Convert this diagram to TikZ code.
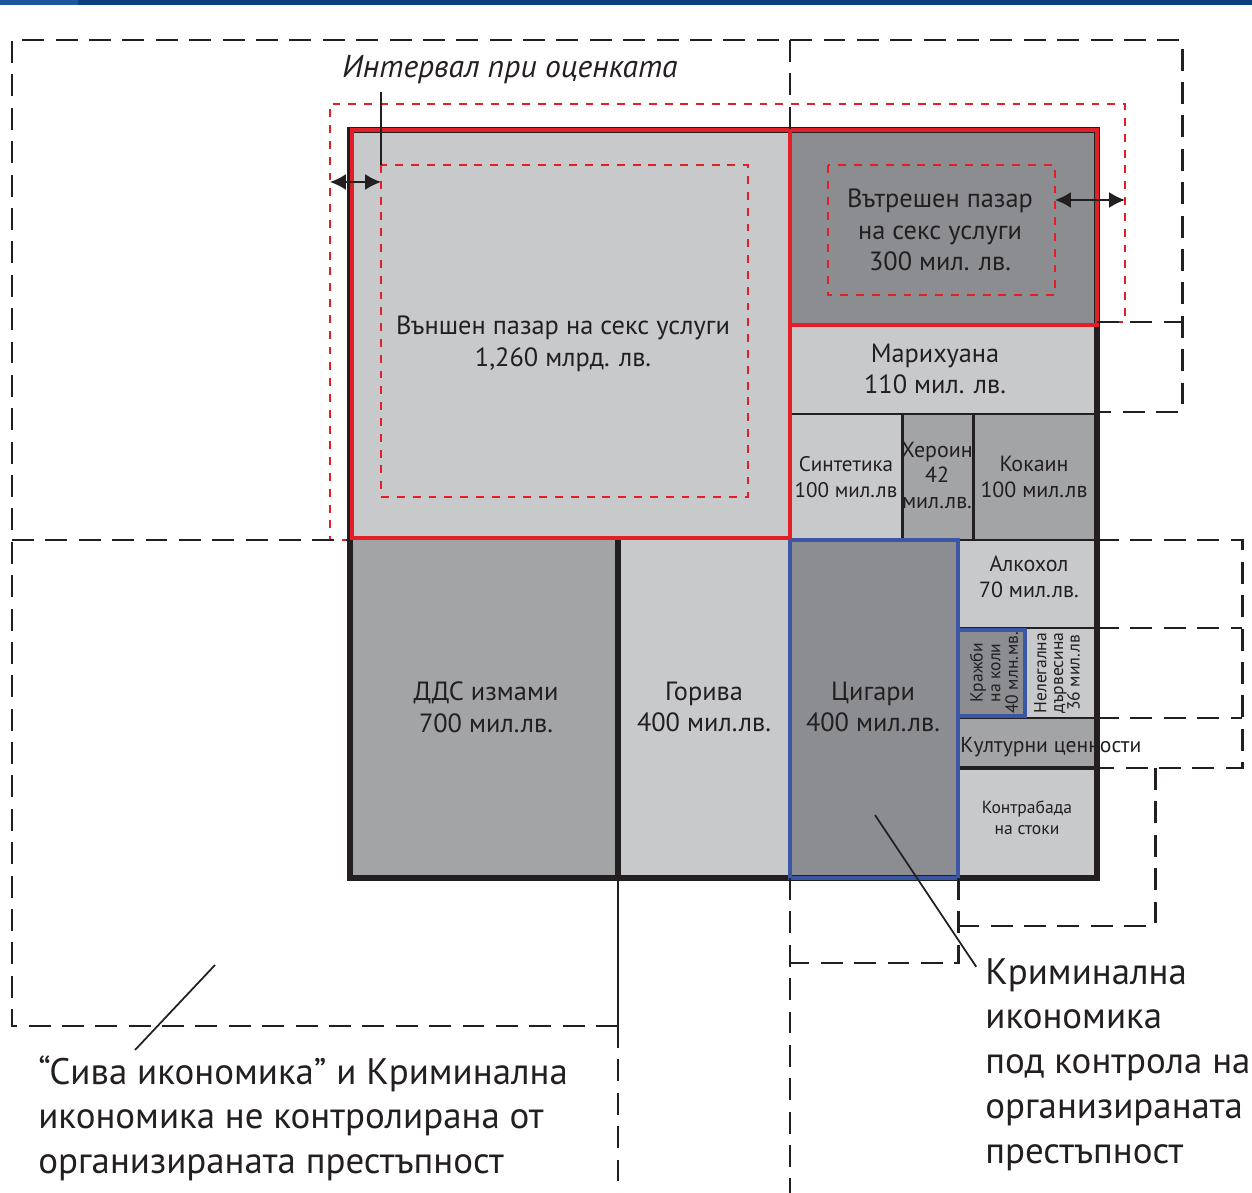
\documentclass[tikz,border=0pt]{standalone}
\usepackage{fontspec}
\setmainfont{PT Sans}
\usetikzlibrary{arrows.meta}
\definecolor{lightcell}{HTML}{C8C9CB}
\definecolor{midcell}{HTML}{A3A4A6}
\definecolor{darkcell}{HTML}{8C8D90}
\definecolor{redline}{HTML}{E21F26}
\definecolor{blueline}{HTML}{3B56A5}
\definecolor{barblue}{HTML}{0B3F7E}
\definecolor{barlight}{HTML}{1E57A0}
\definecolor{ink}{HTML}{231F20}
\tikzset{
	gap/.style={ink, line width=1.7pt, dash pattern=on 12.5pt off 6.5pt},
	redgap/.style={redline, line width=1.2pt, dash pattern=on 4.5pt off 4.5pt},
	sep/.style={ink, line width=1.7pt},
	celltext/.style={ink, align=center, inner sep=0pt},
	bigtext/.style={ink, align=left, inner sep=0pt, font=\fontsize{21}{25.5}\selectfont},
	twoway/.style={{Latex[length=9pt,width=9pt]}-{Latex[length=9pt,width=9pt]}, ink, line width=0.9pt}
}
\begin{document}
\begin{tikzpicture}[x=0.02cm,y=-0.02cm]
	\useasboundingbox (0,0) rectangle (1252,1193);
	\fill[barblue] (0,0) rectangle (1252,5);
	\fill[barlight] (0,0) rectangle (78,5);
	
	% cells
	\fill[lightcell] (350,130) rectangle (790,540);
	\fill[darkcell] (790,130) rectangle (1097,325);
	\fill[lightcell] (790,325) rectangle (1097,414);
	\fill[lightcell] (790,414) rectangle (902,540);
	\fill[midcell] (902,414) rectangle (1097,540);
	\fill[midcell] (350,540) rectangle (618,878);
	\fill[lightcell] (618,540) rectangle (790,878);
	\fill[darkcell] (790,540) rectangle (958,878);
	\fill[lightcell] (958,540) rectangle (1097,628);
	\fill[darkcell] (958,628) rectangle (1025,718);
	\fill[lightcell] (1025,628) rectangle (1097,718);
	\fill[midcell] (958,718) rectangle (1097,768);
	\fill[lightcell] (958,768) rectangle (1097,878);
	
	\draw[sep] (790,414) -- (1097,414);
	\draw[sep] (902,414) -- (902,540) (973,414) -- (973,540);
	\draw[sep] (958,540) -- (1097,540);
	\draw[sep] (958,628) -- (1097,628);
	\draw[sep] (958,718) -- (1097,718);
	\draw[ink, line width=2.6pt] (958,768) -- (1097,768);
	\draw[ink, line width=3.2pt] (618,540) -- (618,878);
	\draw[ink, line width=3.4pt] (350,130) rectangle (1097,878);
	
	\draw[blueline, line width=2.2pt] (790,540) rectangle (958,878);
	\draw[blueline, line width=2.2pt] (958,630) rectangle (1025,716);
	\draw[redline, line width=2.8pt] (352,130) rectangle (790,538);
	\draw[redline, line width=2.8pt] (790,130) rectangle (1097,325);
	
	% estimate range
	\draw[redgap] (381,165) rectangle (748,497);
	\draw[redgap] (828,165) rectangle (1055,295);
	\draw[redgap] (350,540) -- (330,540) -- (330,104) -- (1125,104) -- (1125,322) -- (1097,322);
	
	% outer zones
	\draw[gap] (618,1026) -- (12,1026) -- (12,40) -- (1182,40) -- (1182,412) -- (1097,412);
	\draw[gap] (12,540) -- (350,540);
	\draw[gap] (790,40) -- (790,130);
	\draw[gap] (1097,322) -- (1182,322);
	\draw[gap] (1097,540) -- (1242,540) -- (1242,768) -- (1097,768);
	\draw[gap] (1097,628) -- (1242,628);
	\draw[gap] (1097,718) -- (1242,718);
	\draw[gap] (1155,768) -- (1155,926) -- (958,926);
	\draw[gap] (958,878) -- (958,963) -- (790,963);
	\draw[gap] (790,878) -- (790,1193);
	\draw[gap] (618,1026) -- (618,1193);
	\draw[ink, line width=1.5pt] (618,878) -- (618,1026);
	
	% texts
	\node[celltext, font=\fontsize{15}{18}\selectfont] (external) at (563,344) {Външен пазар на секс услуги\\1,260 млрд. лв.};
	\node[celltext, font=\fontsize{15}{18}\selectfont] (internal) at (940,230) {Вътрешен пазар\\на секс услуги\\300 мил. лв.};
	\node[celltext, font=\fontsize{15}{18}\selectfont] (marijuana) at (935,369) {Марихуана\\110 мил. лв.};
	\node[celltext, font=\fontsize{12}{14.5}\selectfont] (synth) at (846,477) {Синтетика\\100 мил.лв};
	\node[celltext, font=\fontsize{12.5}{14.5}\selectfont] (heroin) at (937,475) {Хероин\\42\\мил.лв.};
	\node[celltext, font=\fontsize{12.5}{14.5}\selectfont] (cocaine) at (1034,477) {Кокаин\\100 мил.лв};
	\node[celltext, font=\fontsize{15}{18}\selectfont] (vat) at (486,707) {ДДС измами\\700 мил.лв.};
	\node[celltext, font=\fontsize{15}{18}\selectfont] (fuel) at (704,707) {Горива\\400 мил.лв.};
	\node[celltext, font=\fontsize{15}{18}\selectfont] (cigs) at (873,707) {Цигари\\400 мил.лв.};
	\node[celltext, font=\fontsize{12.5}{14.5}\selectfont] (alcohol) at (1029,577) {Алкохол\\70 мил.лв.};
	\node[celltext, rotate=90, font=\fontsize{10}{10}\selectfont] (cars) at (994,673) {Кражби\\на коли\\40 млн.мв.};
	\node[celltext, rotate=90, font=\fontsize{10}{9.5}\selectfont] (timber) at (1057,673) {Нелегална\\дървесина\\36 мил.лв};
	\node[celltext, anchor=west, font=\fontsize{12.3}{14}\selectfont] (culture) at (960,747) {Културни ценности};
	\node[celltext, font=\fontsize{10}{12}\selectfont] (smuggling) at (1027,818) {Контрабада\\на стоки};
	\node[celltext, font=\fontsize{18}{20}\itshape] (interval) at (510,70) {Интервал при оценката};
	\node[bigtext, anchor=north west] (crime) at (985,958) {Криминална\\икономика\\под контрола на\\организираната\\престъпност};
	\node[bigtext, anchor=north west] (grey) at (38,1055) {“Сива икономика” и Криминална\\икономика не контролирана от\\организираната престъпност};
	
	\coordinate (I1) at (381,92);
	\coordinate (I2) at (381,165);
	\coordinate (L1) at (330,182);
	\coordinate (L2) at (381,182);
	\coordinate (R1) at (1055,200);
	\coordinate (R2) at (1125,200);
	\coordinate (C1) at (875,815);
	\coordinate (G1) at (215,965);
	\coordinate (G2) at (135,1050);
	
	\draw[ink, line width=0.9pt] (I1) -- (I2);
	\draw[twoway] (L1) -- (L2);
	\draw[twoway] (R1) -- (R2);
	\draw[ink, line width=1pt] (C1) -- ([xshift=-5pt,yshift=-5pt]crime.north west);
	\draw[ink, line width=1pt] (G1) -- (G2); %pointer to grey text
\end{tikzpicture}
\end{document}
